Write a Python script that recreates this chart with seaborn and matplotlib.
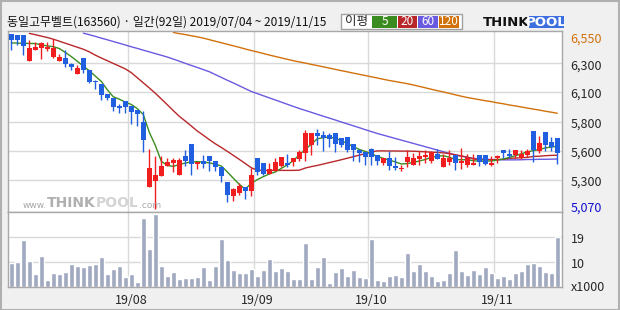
import numpy as np
import pandas as pd
import matplotlib
matplotlib.use("Agg")
import matplotlib.pyplot as plt
import seaborn as sns
from matplotlib.patches import Rectangle
from matplotlib.transforms import ScaledTranslation
from matplotlib import font_manager

sns.set_style("white")
plt.rcParams['font.family'] = ['Noto Sans CJK KR', 'DejaVu Sans']

names = {f.name for f in font_manager.fontManager.ttflist}
HAS_NARROW = "Liberation Sans Narrow" in names
NARROW = ["Liberation Sans Narrow", "DejaVu Sans"] if HAS_NARROW else ["DejaVu Sans"]

# ---------------- data ----------------
title = "동일고무벨트(163560) · 일간(92일) 2019/07/04 ~ 2019/11/15"
legend_title = "이평"
ma_labels = ["5", "20", "60", "120"]
watermark = ["www.", "THINK", "POOL", ".com"]

opens = [6547, 6542, 6542, 6323, 6415, 6435, 6424, 6353, 6323, 6345,
         6297, 6213, 6345, 6244, 6157, 6132, 6044, 6008, 5943, 5983,
         5943, 5910, 5811, 5258, 5311, 5353, 5432, 5463, 5356, 5519,
         5617, 5453, 5474, 5519, 5477, 5423, 5303, 5179, 5207, 5258,
         5227, 5502, 5460, 5370, 5395, 5432, 5463, 5469, 5496, 5544,
         5615, 5710, 5693, 5693, 5718, 5676, 5679, 5617, 5570, 5553,
         5578, 5525, 5460, 5502, 5432, 5412, 5468, 5446, 5494, 5508,
         5480, 5536, 5429, 5468, 5530, 5463, 5446, 5443, 5527, 5527,
         5443, 5499, 5570, 5536, 5527, 5505, 5527, 5730, 5564, 5721,
         5637, 5671]
highs = [6547, 6542, 6542, 6502, 6480, 6480, 6480, 6505, 6385, 6415,
         6309, 6289, 6345, 6244, 6162, 6132, 6044, 6008, 5957, 5983,
         5943, 5910, 5896, 5578, 5516, 5516, 5502, 5502, 5502, 5567,
         5617, 5465, 5530, 5519, 5477, 5423, 5303, 5249, 5289, 5258,
         5418, 5502, 5460, 5460, 5502, 5511, 5536, 5502, 5572, 5738,
         5710, 5747, 5727, 5710, 5718, 5676, 5679, 5617, 5570, 5553,
         5586, 5525, 5502, 5558, 5508, 5440, 5567, 5544, 5558, 5567,
         5558, 5581, 5536, 5572, 5530, 5586, 5536, 5536, 5527, 5527,
         5516, 5530, 5570, 5581, 5570, 5570, 5581, 5730, 5690, 5721,
         5682, 5671]
lows = [6415, 6458, 6373, 6323, 6415, 6339, 6407, 6345, 6323, 6275,
        6247, 6213, 6219, 6134, 6087, 5994, 5994, 5896, 5887, 5882,
        5792, 5775, 5550, 5258, 5070, 5353, 5432, 5384, 5356, 5432,
        5362, 5412, 5418, 5395, 5395, 5300, 5131, 5137, 5193, 5159,
        5185, 5362, 5362, 5370, 5395, 5423, 5429, 5432, 5474, 5480,
        5530, 5615, 5564, 5595, 5553, 5595, 5553, 5480, 5468, 5446,
        5446, 5446, 5446, 5404, 5404, 5395, 5423, 5446, 5446, 5460,
        5460, 5496, 5429, 5446, 5404, 5412, 5423, 5443, 5432, 5446,
        5432, 5460, 5502, 5502, 5502, 5496, 5508, 5471, 5544, 5564,
        5564, 5451]
closes = [6500, 6500, 6452, 6429, 6438, 6472, 6443, 6429, 6359, 6297,
          6275, 6261, 6247, 6143, 6143, 6036, 6008, 5932, 5929, 5935,
          5895, 5876, 5657, 5418, 5359, 5437, 5466, 5485, 5485, 5474,
          5449, 5465, 5454, 5480, 5429, 5348, 5187, 5241, 5266, 5227,
          5359, 5384, 5367, 5409, 5466, 5511, 5443, 5502, 5553, 5710,
          5710, 5688, 5671, 5665, 5620, 5615, 5570, 5570, 5541, 5513,
          5511, 5480, 5502, 5432, 5420, 5420, 5511, 5502, 5522, 5530,
          5553, 5496, 5502, 5502, 5463, 5480, 5502, 5460, 5471, 5451,
          5460, 5522, 5547, 5516, 5570, 5539, 5561, 5570, 5629, 5615,
          5592, 5547]
nan = np.nan
ma5 = [6475, 6474, 6472, 6471, 6470, 6460, 6450, 6444, 6428, 6395,
       6360, 6320, 6280, 6240, 6195, 6150, 6080, 6020, 6000, 5975,
       5955, 5920, 5870, 5720, 5610, 5475, 5440, 5432, 5448, 5460,
       5470, 5472, 5468, 5462, 5450, 5435, 5385, 5332, 5280, 5240,
       5290, 5320, 5345, 5368, 5385, 5415, 5445, 5480, 5530, 5575,
       5620, 5665, 5675, 5680, 5670, 5650, 5625, 5598, 5575, 5558,
       5540, 5516, 5500, 5485, 5470, 5452, 5456, 5465, 5478, 5490,
       5508, 5518, 5522, 5510, 5490, 5488, 5488, 5480, 5475, 5476,
       5478, 5485, 5494, 5508, 5522, 5538, 5555, 5565, 5575, 5588,
       5596, 5601]
ma20 = [nan, nan, nan, 6556, 6545, 6533, 6521, 6507, 6490, 6473,
        6456, 6439, 6422, 6400, 6372, 6348, 6325, 6302, 6279, 6256,
        6224, 6181, 6138, 6095, 6050, 6002, 5953, 5903, 5855, 5815,
        5773, 5731, 5695, 5658, 5623, 5592, 5559, 5525, 5491, 5456,
        5420, 5400, 5398, 5398, 5398, 5398, 5398, 5398, 5400, 5418,
        5430, 5440, 5452, 5464, 5476, 5488, 5501, 5514, 5527, 5541,
        5553, 5563, 5563, 5562, 5562, 5561, 5561, 5560, 5558, 5555,
        5552, 5550, 5546, 5540, 5530, 5520, 5510, 5495, 5488, 5488,
        5488, 5490, 5492, 5500, 5502, 5505, 5508, 5516, 5518, 5522,
        5525, 5526]
ma60 = [nan, nan, nan, nan, nan, nan, nan, nan, nan, nan,
        nan, nan, 6558, 6545, 6531, 6516, 6502, 6487, 6473, 6458,
        6443, 6429, 6414, 6400, 6385, 6371, 6356, 6339, 6321, 6303,
        6285, 6268, 6250, 6232, 6208, 6184, 6160, 6137, 6113, 6089,
        6065, 6047, 6029, 6011, 5993, 5975, 5957, 5939, 5921, 5905,
        5889, 5872, 5856, 5840, 5824, 5807, 5791, 5775, 5759, 5742,
        5726, 5710, 5696, 5682, 5668, 5654, 5640, 5626, 5612, 5598,
        5584, 5570, 5556, 5542, 5528, 5518, 5508, 5500, 5495, 5492,
        5490, 5488, 5487, 5487, 5487, 5488, 5490, 5490, 5492, 5492,
        5493, 5494]
ma120 = [nan, nan, nan, nan, nan, nan, nan, nan, nan, nan,
         nan, nan, nan, nan, nan, nan, nan, nan, nan, nan,
         nan, nan, nan, nan, nan, nan, nan, 6564, 6554, 6546,
         6536, 6527, 6516, 6503, 6490, 6477, 6464, 6451, 6438, 6424,
         6411, 6399, 6386, 6373, 6361, 6349, 6337, 6325, 6315, 6305,
         6294, 6284, 6273, 6263, 6252, 6241, 6231, 6220, 6210, 6200,
         6189, 6179, 6168, 6158, 6149, 6140, 6131, 6120, 6108, 6096,
         6084, 6072, 6061, 6049, 6037, 6025, 6014, 6005, 5996, 5987,
         5979, 5969, 5961, 5951, 5943, 5934, 5925, 5916, 5908, 5898,
         5890, 5881]
volumes = [9.3, 9.7, 18.2, 10.1, 5.1, 12.0, 2.8, 5.5, 5.1, 5.9,
           9.0, 8.2, 7.8, 8.6, 9.0, 11.6, 5.1, 7.0, 8.2, 4.0,
           5.1, 2.0, 26.6, 14.7, 28.2, 8.2, 4.4, 5.9, 3.2, 3.6,
           3.6, 4.0, 7.8, 2.8, 8.2, 18.6, 10.5, 6.7, 5.5, 5.5,
           7.0, 4.4, 6.7, 10.9, 6.3, 7.4, 6.3, 3.2, 3.2, 17.0,
           3.2, 7.8, 11.6, 1.7, 5.9, 7.4, 4.4, 6.7, 4.0, 3.6,
           18.6, 2.8, 2.4, 4.4, 4.7, 4.0, 13.2, 6.3, 9.0, 6.3,
           4.4, 2.4, 2.8, 5.5, 14.3, 6.3, 4.7, 6.7, 5.1, 7.8,
           5.5, 3.6, 4.4, 3.2, 5.5, 6.3, 9.0, 9.3, 8.2, 5.9,
           5.5, 19.3]
month_idx = [20, 41, 60, 81]
month_labels = ["19/08", "19/09", "19/10", "19/11"]
price_max, price_min = 6550, 5070
price_tick_labels = ["6,550", "6,300", "6,100", "5,800", "5,600", "5,300", "5,070"]
vol_max = 28.8
vol_tick_labels = ["19", "10", "x1000"]

n = len(opens)
for arr in (highs, lows, closes, ma5, ma20, ma60, ma120, volumes):
    assert len(arr) == n

df = pd.DataFrame({"i": np.arange(n), "open": opens, "high": highs,
                   "low": lows, "close": closes, "vol": volumes,
                   "ma5": ma5, "ma20": ma20, "ma60": ma60, "ma120": ma120})

# ---------------- style ----------------
RED = "#f01e1e"
BLUE = "#1f5fe0"
C5, C20, C60, C120 = "#3a8c20", "#b8282a", "#6a5ae0", "#d2700a"
GRID = "#d9d9d9"
FRAME = "#a8a8a8"
BG = "#f0f0f0"

W, H = 620, 310
fig = plt.figure(figsize=(6.2, 3.1), dpi=100, facecolor=BG)

def fx(p):
    return p / W

def fy(p):
    return 1 - p / H

L, R = 7.5, 562.3
T, M, B = 31.0, 212.3, 287.3
ax = fig.add_axes([fx(L), fy(M), fx(R - L), (M - T) / H])
axv = fig.add_axes([fx(L), fy(B), fx(R - L), (B - M) / H])
for a in (ax, axv):
    a.set_facecolor("white")
    for s in a.spines.values():
        s.set_color(FRAME)
        s.set_linewidth(1.0)

step = (price_max - price_min) / 6
pad = 3.1 * step / 29.2
ax.set_ylim(price_min - pad, price_max + pad)
xlo, xhi = -0.633, 91.83
ax.set_xlim(xlo, xhi)

# gridlines
grid_vals = np.linspace(price_max, price_min, 7)
for v in grid_vals[1:-1]:
    ax.axhline(v, color=GRID, lw=1.0, zorder=0.5)
for m in month_idx:
    ax.axvline(m - 0.5, color=GRID, lw=1.0, zorder=0.5)
    axv.axvline(m - 0.5, color=GRID, lw=1.0, zorder=0.5)
for v in (vol_max / 3, 2 * vol_max / 3):
    axv.axhline(v, color=GRID, lw=1.0, zorder=0.5)

# watermark (pieces chained left to right)
renderer = fig.canvas.get_renderer()
big = 12.8 if HAS_NARROW else 10.0
small = 8.0 if HAS_NARROW else 6.5
wm_styles = [dict(fontsize=small, color="#a6a6a6", weight="normal", dy=-2.5),
             dict(fontsize=big, color="#b0b0b0", weight="bold", dy=0),
             dict(fontsize=big, color="#d4d4d4", weight="bold", dy=0),
             dict(fontsize=small, color="#a9a9a9", weight="normal", dy=-2.5)]
xpos = 22.7
for word, st in zip(watermark, wm_styles):
    t = fig.text(fx(xpos), fy(203 - st["dy"]), word, fontsize=st["fontsize"],
                 color=st["color"], weight=st["weight"], family=NARROW,
                 va="center", ha="left", zorder=1.5)
    bb = t.get_window_extent(renderer)
    xpos += bb.width + 0.3

# moving averages
for col, c in (("ma120", C120), ("ma60", C60), ("ma20", C20), ("ma5", C5)):
    sns.lineplot(data=df, x="i", y=col, ax=ax, color=c, lw=1.0, zorder=2)

# candles
up = df["close"] >= df["open"]
colors = np.where(up, RED, BLUE)
ax.vlines(df["i"], df["low"], df["high"], colors=colors, lw=1.0, zorder=3)
body_lo = np.minimum(df["open"], df["close"])
body_h = np.maximum(np.abs(df["close"] - df["open"]), 8)
ax.bar(df["i"], body_h, bottom=body_lo, width=0.8, color=colors,
       linewidth=0, zorder=4)

# volume
sns.barplot(data=df, x="i", y="vol", ax=axv, color="#a1a9c0", saturation=1,
            width=0.85, native_scale=True, errorbar=None, zorder=2)
axv.set_ylim(0, vol_max)
axv.set_xlim(xlo, xhi)

for a in (ax, axv):
    a.set_xlabel("")
    a.set_ylabel("")
ax.set_xticks([])
ax.yaxis.tick_right()
ax.set_yticks(grid_vals, price_tick_labels)
ax.tick_params(axis="y", length=0, pad=6, labelsize=9)
ylabs = ax.get_yticklabels()
ylabs[0].set_color(C120)
ylabs[-1].set_color("#1010d0")
offs = [-4, -1, -0.6, -0.6, -0.4, -1, 2.2]
for lab, dy in zip(ylabs, offs):
    lab.set_transform(lab.get_transform() + ScaledTranslation(0, dy / 100, fig.dpi_scale_trans))

axv.yaxis.tick_right()
axv.set_yticks([2 * vol_max / 3, vol_max / 3, 0], vol_tick_labels)
axv.tick_params(axis="y", length=0, pad=6, labelsize=9)
vlabs = axv.get_yticklabels()
for lab, dy in zip(vlabs, [-1, -0.6, 1.3]):
    lab.set_transform(lab.get_transform() + ScaledTranslation(0, dy / 100, fig.dpi_scale_trans))
axv.set_xticks(month_idx, month_labels)
axv.tick_params(axis="x", length=0, pad=5, labelsize=9)

# title
fig.text(fx(7), fy(22), title, fontsize=8.6, va="center", ha="left", color="#111111")

# MA legend box
fig.patches.append(Rectangle((fx(341), fy(29)), fx(121), (29 - 14) / H,
                             transform=fig.transFigure, facecolor="white",
                             edgecolor="#a0a0a0", lw=1.0))
fig.text(fx(356), fy(21.5), legend_title, fontsize=9, va="center", ha="center")
boxes = [(372, 397), (398, 417), (418, 438), (439, 459)]
for (x0, x1), lab, c in zip(boxes, ma_labels, (C5, C20, C60, C120)):
    fig.patches.append(Rectangle((fx(x0), fy(27.5)), fx(x1 - x0), 12 / H,
                                 transform=fig.transFigure, facecolor=c, lw=0))
    fig.text(fx((x0 + x1) / 2), fy(21.5), lab, fontsize=8.5, color="white",
             va="center", ha="center")

# THINKPOOL logo
logo_fs = 11.5 if HAS_NARROW else 9.5
fig.text(fx(483), fy(22), "THINK", fontsize=logo_fs, weight="bold", family=NARROW,
         color="#111111", va="center", ha="left")
fig.patches.append(Rectangle((fx(528.5), fy(27.5)), fx(35), 11.5 / H,
                             transform=fig.transFigure, facecolor="#3d6fe0", lw=0))
fig.text(fx(546), fy(22), "POOL", fontsize=logo_fs, weight="bold", family=NARROW,
         color="white", va="center", ha="center")

# outer frame
fig.patches.append(Rectangle((0.5 / W, 0.5 / H), 1 - 1.5 / W, 1 - 1.5 / H,
                             transform=fig.transFigure, facecolor="none",
                             edgecolor="#b0b0b0", lw=1.5))

fig.savefig("out.png", dpi=100, facecolor=BG)
